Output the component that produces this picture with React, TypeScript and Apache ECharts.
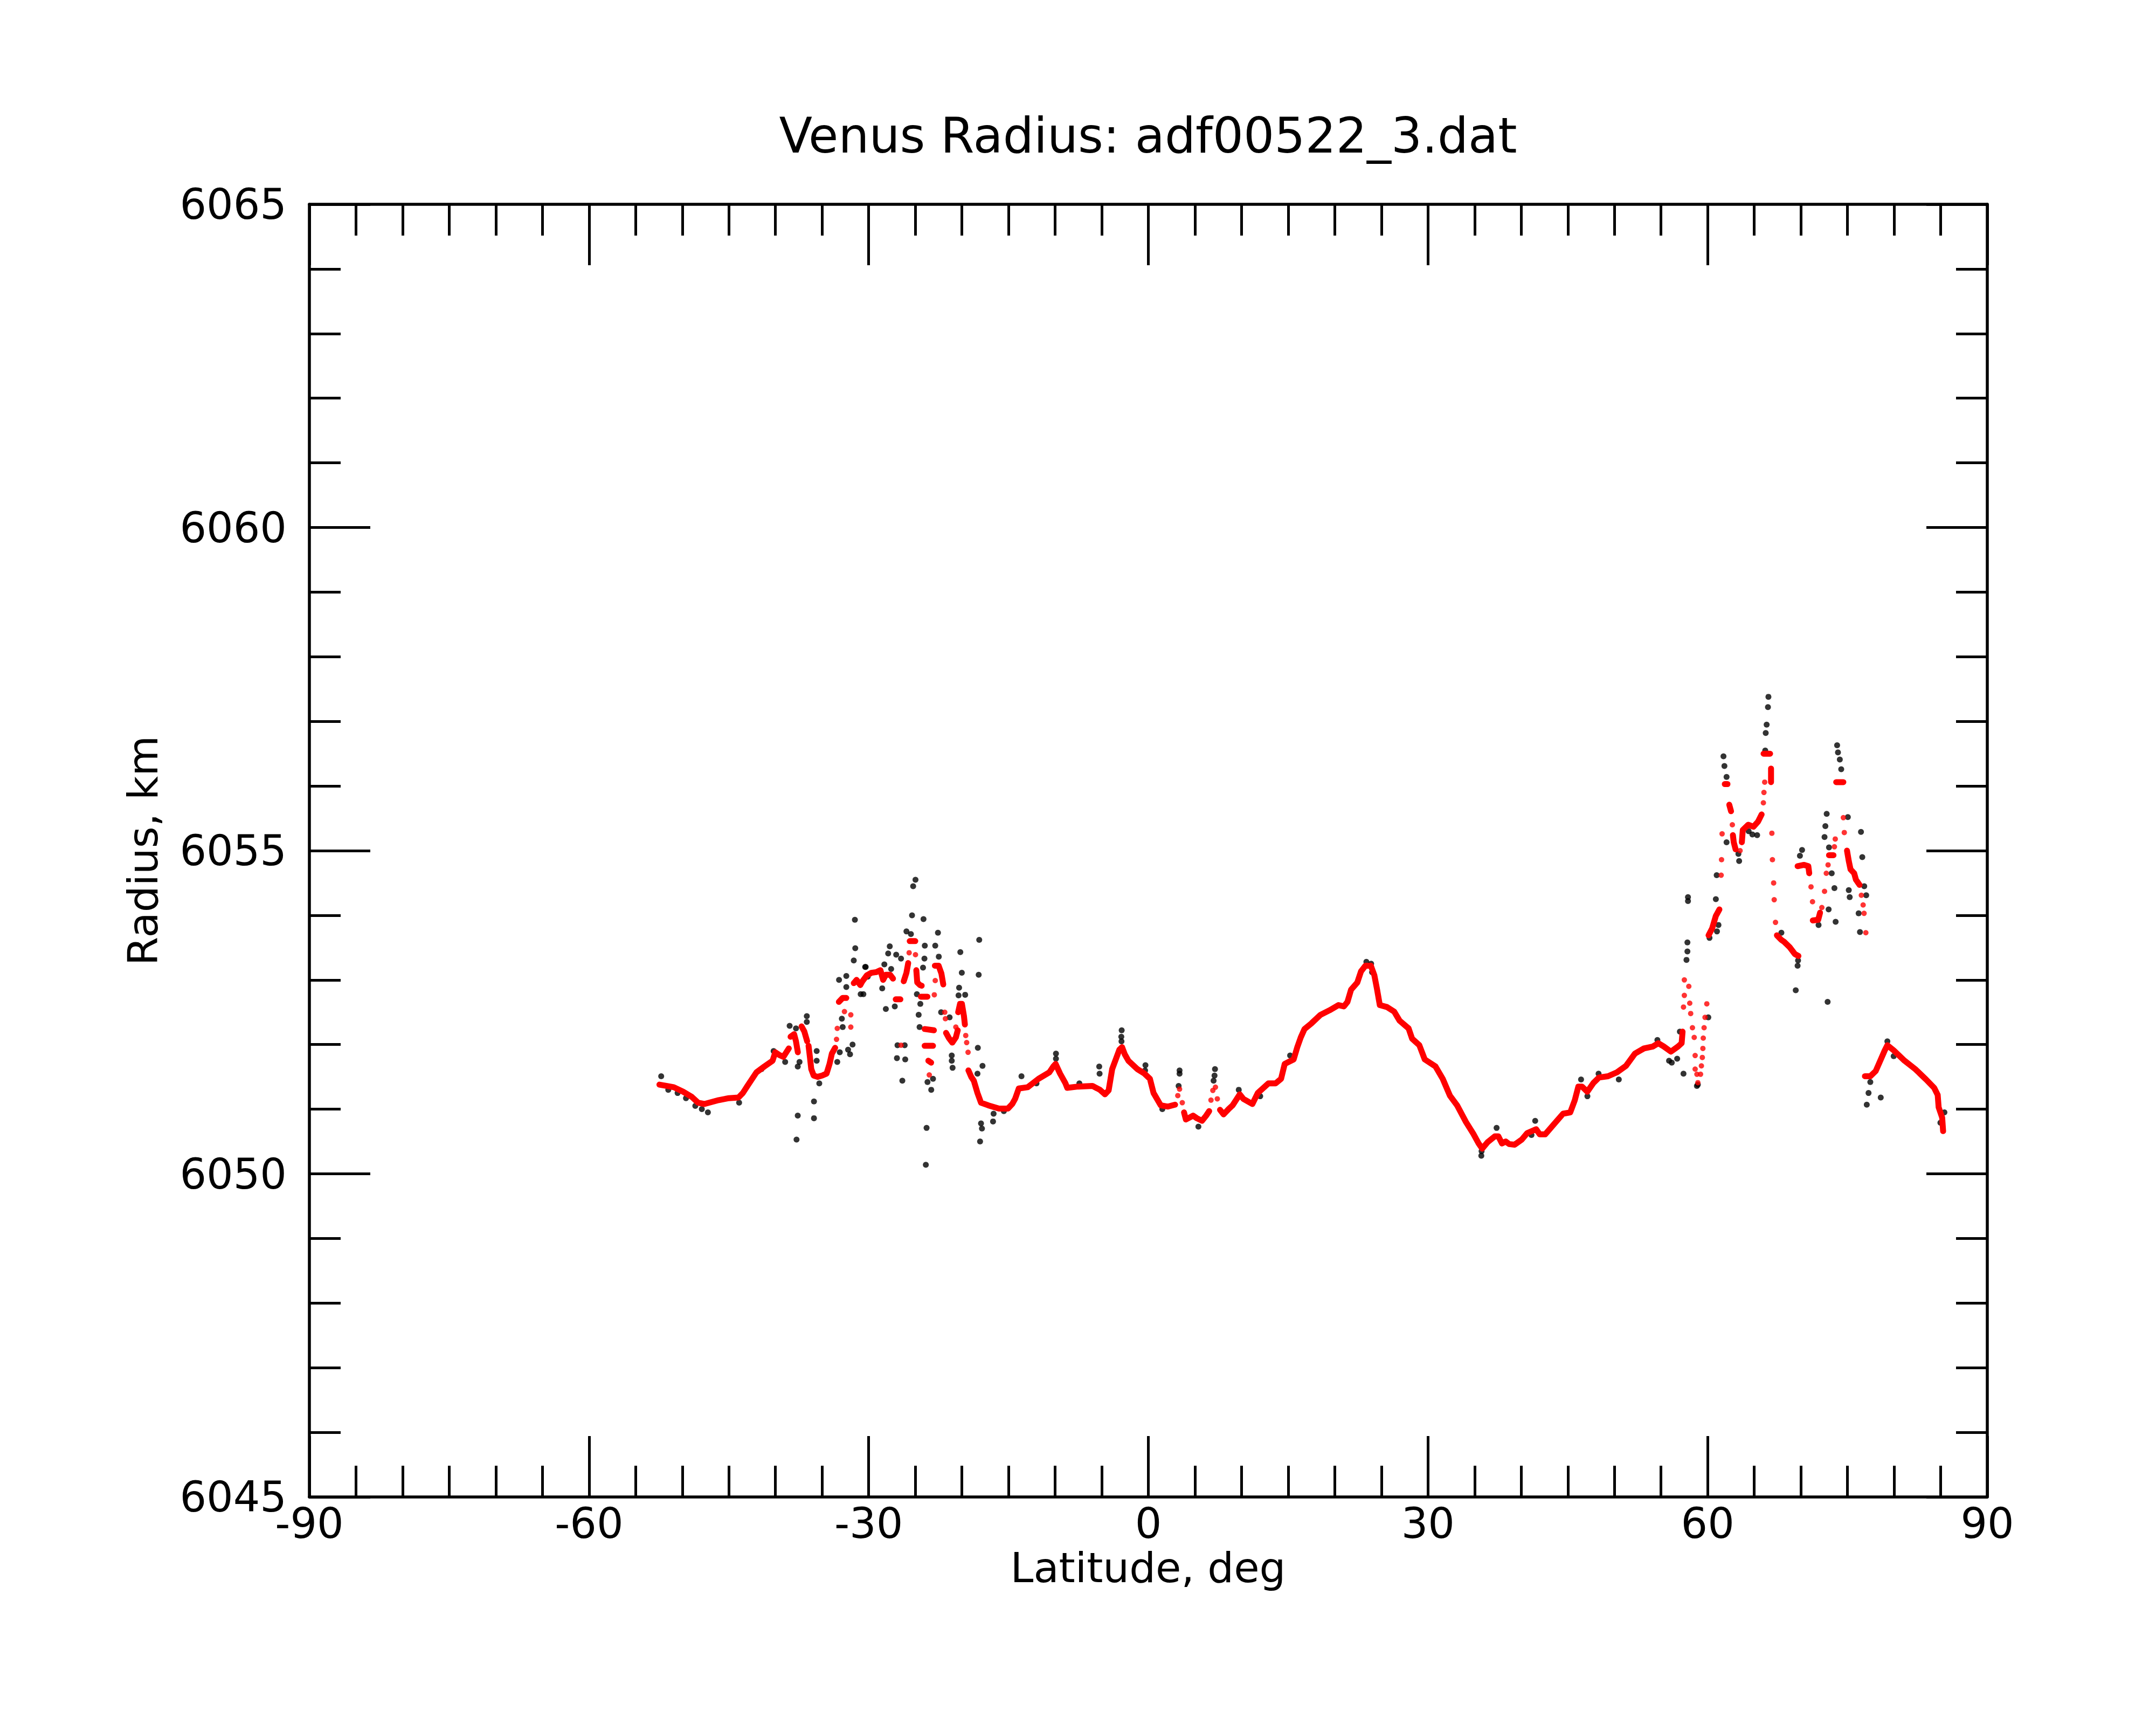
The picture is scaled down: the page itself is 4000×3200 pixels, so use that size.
import React, { useEffect, useRef } from "react";
import * as echarts from "echarts";

const TITLE = "Venus Radius: adf00522_3.dat";
const X_NAME = "Latitude, deg";
const Y_NAME = "Radius, km";
const X_MIN = -90;
const X_MAX = 90;
const X_STEP = 30;
const Y_MIN = 6045;
const Y_MAX = 6065;
const Y_STEP = 5;

// Red (filtered) continuous segments: [latitude, radius]
const redSouthA = [[-52.45,6051.38],[-51.7,6051.36],[-50.91,6051.34],[-49.9,6051.27],[-48.98,6051.19],[-48.3,6051.1],[-47.63,6051.08],[-46.09,6051.14],[-45.0,6051.17],[-43.97,6051.18],[-43.5,6051.25],[-43.01,6051.36],[-42.04,6051.57],[-41.2,6051.66],[-40.31,6051.75],[-40.02,6051.88],[-39.6,6051.84],[-39.15,6051.81],[-38.57,6051.94]];
const redSouthB = [[-38.38,6052.12],[-38.0,6052.16],[-37.8,6052.05],[-37.6,6051.88]];
const redSouthC = [[-37.2,6052.28],[-36.9,6052.2],[-36.6,6052.05]];
const redSouthD = [[-36.45,6051.98],[-36.3,6051.8],[-36.16,6051.62],[-35.9,6051.52],[-35.49,6051.5],[-35.0,6051.52],[-34.52,6051.55],[-34.2,6051.7],[-33.95,6051.86],[-33.6,6051.95]];
const redSouthE = [[-33.2,6052.66],[-32.8,6052.72],[-32.4,6052.72]];
const redSouthF = [[-31.6,6052.95],[-31.3,6053.0],[-30.9,6052.92],[-30.67,6052.98],[-30.2,6053.07],[-29.71,6053.11],[-29.2,6053.12],[-28.74,6053.15],[-28.45,6053.0],[-28.16,6053.08],[-27.7,6053.08],[-27.39,6053.02]];
const redSouthG = [[-27.1,6052.7],[-26.6,6052.7]];
const redSouthH = [[-26.24,6052.98],[-25.95,6053.11],[-25.76,6053.26]];
const redSouthI = [[-25.6,6053.6],[-25.0,6053.6]];
const redSouthJ = [[-24.89,6053.15],[-24.79,6052.96],[-24.5,6052.92],[-24.31,6052.91]];
const redSouthK = [[-24.4,6052.74],[-23.7,6052.74]];
const redSouthL = [[-24.0,6052.24],[-23.0,6052.22]];
const redSouthM = [[-24.0,6051.98],[-23.1,6051.98]];
const redSouthN = [[-23.6,6051.75],[-23.3,6051.72]];
const redSouthO = [[-22.9,6053.22],[-22.5,6053.22],[-22.2,6053.1],[-22.0,6052.93]];
const redSouthP = [[-21.7,6052.18],[-21.4,6052.1],[-21.03,6052.03],[-20.65,6052.11],[-20.45,6052.22]];
const redSouthQ = [[-20.4,6052.5],[-20.2,6052.63],[-20.0,6052.63],[-19.78,6052.44],[-19.68,6052.31]];
const redMiddle = [[-19.3,6051.6],[-19.0,6051.5],[-18.72,6051.44],[-18.33,6051.25],[-17.95,6051.1],[-17.18,6051.06],[-16.02,6051.01],[-15.06,6051.01],[-14.6,6051.08],[-14.29,6051.16],[-13.9,6051.32],[-12.94,6051.34],[-11.78,6051.47],[-10.62,6051.57],[-10.2,6051.66],[-9.95,6051.7],[-9.47,6051.55],[-8.89,6051.4],[-8.7,6051.33],[-7.54,6051.35],[-6.0,6051.36],[-5.2,6051.3],[-4.65,6051.23],[-4.26,6051.29],[-3.88,6051.62],[-3.11,6051.92],[-2.82,6051.96],[-2.53,6051.85],[-2.14,6051.75],[-1.18,6051.62],[-0.41,6051.55],[0.17,6051.47],[0.56,6051.25],[1.33,6051.06],[2.1,6051.04],[2.87,6051.07]];
const redEquatorA = [[3.83,6050.95],[4.03,6050.84],[4.8,6050.9],[5.2,6050.86],[5.76,6050.82],[6.2,6050.9],[6.53,6050.97]];
const redNorth = [[7.69,6050.99],[8.07,6050.92],[8.6,6051.0],[9.04,6051.06],[9.81,6051.23],[10.19,6051.16],[11.16,6051.08],[11.74,6051.25],[12.89,6051.4],[13.66,6051.4],[14.24,6051.47],[14.63,6051.7],[15.59,6051.77],[15.98,6051.96],[16.35,6052.11],[16.75,6052.24],[17.51,6052.33],[18.47,6052.46],[19.44,6052.53],[20.4,6052.61],[20.98,6052.59],[21.36,6052.66],[21.75,6052.85],[22.42,6052.96],[22.81,6053.13],[23.29,6053.22],[23.87,6053.22],[24.25,6053.07],[24.54,6052.85],[24.83,6052.61],[25.6,6052.58],[26.37,6052.51],[26.95,6052.37],[27.92,6052.25],[28.3,6052.09],[29.07,6051.99],[29.65,6051.77],[30.81,6051.66],[31.58,6051.47],[32.35,6051.21],[33.12,6051.06],[34.08,6050.8],[34.86,6050.62],[35.43,6050.47],[35.82,6050.39],[36.4,6050.49],[37.17,6050.58],[37.55,6050.58],[37.94,6050.47],[38.33,6050.5],[38.71,6050.46],[39.29,6050.45],[40.06,6050.53],[40.64,6050.63],[41.6,6050.69],[41.99,6050.61],[42.57,6050.61],[43.53,6050.77],[44.49,6050.93],[45.26,6050.95],[45.75,6051.14],[46.13,6051.35],[46.52,6051.35],[47.09,6051.27],[47.77,6051.41],[48.35,6051.49],[49.31,6051.51],[50.27,6051.57],[51.24,6051.67],[52.2,6051.86],[53.17,6051.94],[54.13,6051.97],[54.71,6052.02],[55.29,6051.97],[56.06,6051.89],[56.83,6051.97],[57.21,6052.02],[57.31,6052.2]];
const redHighA = [[60.1,6053.69],[60.49,6053.8],[60.88,6053.99],[61.26,6054.09]];
const redHighB = [[61.84,6056.03],[62.13,6056.03]];
const redHighC = [[62.32,6055.71],[62.51,6055.61]];
const redHighD = [[62.71,6055.24],[62.8,6055.13],[63.0,6055.02]];
const redHighE = [[63.67,6055.13],[63.77,6055.32],[64.35,6055.4],[64.92,6055.37],[65.41,6055.45],[65.79,6055.56]];
const redHighF = [[66.0,6056.5],[66.7,6056.5]];
const redHighG = [[66.8,6056.27],[66.8,6056.06]];
const redHighH = [[67.43,6053.69],[67.9,6053.62],[68.2,6053.59],[68.78,6053.51],[69.36,6053.4],[69.74,6053.37]];
const redHighI = [[69.65,6054.76],[70.32,6054.78],[70.8,6054.76],[70.9,6054.65]];
const redHighJ = [[71.28,6053.92],[71.86,6053.93],[72.06,6054.04]];
const redHighK = [[73.02,6054.93],[73.5,6054.93]];
const redHighL = [[73.79,6056.06],[74.56,6056.06]];
const redHighM = [[74.95,6055.0],[75.14,6054.84],[75.33,6054.71],[75.72,6054.65],[75.91,6054.55],[76.3,6054.47]];
const redPolar = [[76.87,6051.51],[77.45,6051.51],[78.03,6051.59],[78.61,6051.78],[79.0,6051.91],[79.28,6051.99],[79.96,6051.91],[81.12,6051.75],[82.27,6051.62],[83.43,6051.46],[84.3,6051.33],[84.68,6051.22],[84.78,6051.03],[85.16,6050.87],[85.26,6050.66]];

// Red isolated dots
const redDots = [[-33.45,6052.08],[-33.37,6052.25],[-32.6,6052.51],[-31.92,6052.46],[-31.92,6052.27],[-25.66,6053.42],[-24.98,6053.39],[-26.53,6051.99],[-23.5,6051.53],[-22.96,6052.77],[-22.86,6052.99],[-21.84,6052.5],[-21.77,6052.4],[-20.65,6052.27],[-19.59,6052.14],[-19.49,6052.03],[-19.34,6051.88],[3.16,6051.21],[3.35,6051.31],[3.64,6051.1],[6.72,6051.14],[6.92,6051.29],[7.2,6051.34],[7.4,6051.16],[57.5,6053.0],[57.98,6052.9],[57.5,6052.76],[58.08,6052.64],[57.41,6052.58],[58.18,6052.48],[58.37,6052.26],[58.56,6052.11],[58.66,6051.83],[58.66,6051.62],[58.85,6051.54],[58.95,6051.41],[59.24,6051.54],[59.33,6051.67],[59.43,6051.8],[59.49,6051.94],[59.53,6052.1],[59.62,6052.26],[59.72,6052.42],[59.91,6052.63],[61.45,6054.62],[61.49,6054.86],[61.55,6055.26],[62.65,6055.4],[63.48,6055.0],[65.98,6055.74],[66.04,6055.9],[66.12,6056.06],[66.89,6055.27],[66.95,6054.86],[67.08,6054.5],[67.14,6054.24],[67.28,6053.89],[71.09,6054.44],[71.25,6054.21],[72.25,6054.12],[72.54,6054.37],[72.73,6054.65],[72.92,6054.78],[73.6,6055.06],[73.69,6055.18],[74.56,6055.51],[74.66,6055.28],[76.49,6054.31],[76.68,6054.16],[76.78,6054.03],[76.97,6053.73]];

// Black (raw) points
const blackSouth = [[-52.26,6051.51],[-51.5,6051.3],[-50.5,6051.25],[-49.6,6051.17],[-48.6,6051.05],[-47.25,6050.95],[-47.9,6051.0],[-43.9,6051.1],[-41.5,6051.62],[-40.2,6051.9],[-38.96,6051.73],[-38.48,6052.29],[-37.8,6052.25],[-36.64,6052.44],[-36.64,6052.35],[-35.58,6051.9],[-35.58,6051.75],[-37.42,6051.73],[-37.61,6051.66],[-35.87,6051.12],[-35.87,6050.86],[-37.61,6050.9],[-37.74,6050.53],[-35.3,6051.4],[-32.21,6051.92],[-31.73,6052.0],[-32.0,6051.85],[-33.37,6051.73],[-33.1,6051.88],[-32.79,6052.27],[-32.88,6052.4],[-33.18,6053.0],[-32.4,6053.06],[-32.4,6052.89],[-31.48,6053.93],[-31.44,6053.49],[-31.6,6053.3],[-30.86,6052.78],[-30.38,6053.2],[-30.1,6053.05]];
const blackMid = [[-24.98,6054.55],[-25.23,6054.45],[-25.35,6054.0],[-24.12,6053.94],[-25.95,6053.75],[-25.47,6053.71],[-27.74,6053.52],[-27.91,6053.41],[-27.05,6053.39],[-26.53,6053.33],[-28.32,6053.24],[-30.32,6053.2],[-27.59,6053.17],[-23.98,6053.53],[-24.02,6053.33],[-24.17,6053.19],[-22.86,6053.53],[-22.57,6053.73],[-22.48,6053.36],[-20.17,6053.43],[-20.01,6053.11],[-18.14,6053.62],[-18.2,6053.08],[-20.3,6052.88],[-20.36,6052.76],[-19.65,6052.77],[-24.83,6052.78],[-24.46,6052.63],[-24.64,6052.46],[-24.54,6052.27],[-28.16,6052.55],[-27.2,6052.59],[-28.55,6052.87],[-30.57,6052.78],[-26.91,6051.99],[-26.14,6051.99],[-26.97,6051.79],[-26.08,6051.77],[-26.39,6051.44],[-22.23,6052.5],[-21.32,6052.42],[-21.09,6051.83],[-21.09,6051.75],[-21.0,6051.64],[-23.69,6051.42],[-23.1,6051.47],[-23.29,6051.3],[-23.79,6050.71],[-23.87,6050.14],[-18.29,6051.95],[-17.79,6051.67],[-18.33,6051.55],[-17.95,6050.78],[-17.85,6050.7],[-18.05,6050.5],[-16.6,6050.93],[-16.66,6050.81],[-13.61,6051.51],[-9.91,6051.86],[-9.91,6051.78],[-7.4,6051.4],[-15.5,6050.97],[-12.0,6051.4]];
const blackEquator = [[-5.27,6051.66],[-5.23,6051.55],[-2.86,6052.22],[-2.9,6052.12],[-2.88,6052.05],[-0.31,6051.68],[-0.35,6051.6],[3.35,6051.6],[3.35,6051.55],[3.25,6051.36],[7.15,6051.62],[7.1,6051.52],[7.0,6051.44],[5.37,6050.73],[15.21,6051.83],[1.5,6051.0],[9.7,6051.3],[12.0,6051.2]];
const blackNorth = [[23.39,6053.28],[23.9,6053.25],[24.0,6053.12],[35.72,6050.28],[35.75,6050.35],[37.36,6050.71],[41.5,6050.82],[41.1,6050.6],[46.42,6051.46],[47.1,6051.2],[48.3,6051.55],[50.47,6051.46],[54.61,6052.07],[55.86,6051.75],[56.15,6051.72],[56.73,6051.78],[57.02,6052.2],[57.41,6051.55],[57.89,6054.28],[57.89,6054.22],[57.83,6053.58],[57.83,6053.44],[57.73,6053.31],[58.95,6051.38],[58.85,6051.36],[60.07,6052.42],[60.2,6053.65],[60.97,6054.62],[60.88,6054.25],[61.16,6053.85],[61.0,6053.75]];
const blackHigh = [[61.7,6056.46],[61.8,6056.31],[62.03,6056.14],[62.03,6055.13],[63.38,6054.84],[63.3,6054.95],[65.31,6055.24],[64.8,6055.25],[64.4,6055.3],[66.52,6057.38],[66.47,6057.22],[66.33,6056.95],[66.23,6056.82],[66.18,6056.55],[73.89,6056.63],[73.98,6056.52],[74.18,6056.41],[74.33,6056.26],[75.04,6055.52],[72.77,6055.57],[72.63,6055.38],[72.54,6055.21],[73.02,6055.05],[73.31,6054.65],[73.6,6054.42],[72.98,6054.09],[73.73,6053.9],[72.87,6052.66],[70.13,6055.01],[69.9,6054.92],[75.14,6054.39],[75.24,6054.28],[76.45,6055.29],[76.59,6054.9],[76.2,6054.03],[76.34,6053.74],[77.01,6054.31],[76.8,6054.45],[69.45,6052.84],[69.65,6053.22],[69.7,6053.3],[67.91,6053.73],[71.9,6053.85],[77.07,6051.07],[77.26,6051.25],[77.45,6051.42],[78.57,6051.18],[79.28,6052.05],[79.96,6051.82],[84.97,6050.79],[85.4,6050.95]];

const RED_SEGMENTS = [redSouthA, redSouthB, redSouthC, redSouthD, redSouthE, redSouthF, redSouthG, redSouthH, redSouthI, redSouthJ, redSouthK, redSouthL, redSouthM, redSouthN, redSouthO, redSouthP, redSouthQ, redMiddle, redEquatorA, redNorth, redHighA, redHighB, redHighC, redHighD, redHighE, redHighF, redHighG, redHighH, redHighI, redHighJ, redHighK, redHighL, redHighM, redPolar];
const BLACK_POINTS = [...blackSouth, ...blackMid, ...blackEquator, ...blackNorth, ...blackHigh];

const FONT = "DejaVu Sans";

function axisCommon(position: string, showLabels: boolean, isX: boolean) {
  return {
    type: "value",
    position,
    min: isX ? X_MIN : Y_MIN,
    max: isX ? X_MAX : Y_MAX,
    interval: isX ? X_STEP : Y_STEP,
    axisLine: { show: true, onZero: false, lineStyle: { color: "#000", width: 5.5 } },
    axisTick: { show: true, inside: true, length: 113, lineStyle: { color: "#000", width: 5 } },
    minorTick: { show: true, splitNumber: isX ? 6 : 5, length: 58, lineStyle: { color: "#000", width: 5 } },
    splitLine: { show: false },
    minorSplitLine: { show: false },
    axisLabel: {
      show: showLabels,
      color: "#000",
      fontSize: 78,
      fontFamily: FONT,
      margin: isX ? 10 : 42,
      showMinLabel: true,
      showMaxLabel: true,
      formatter: (v: number) => String(v),
    },
  };
}

export default function App() {
  const ref = useRef<HTMLDivElement>(null);
  useEffect(() => {
    if (!ref.current) return;
    const chart = echarts.init(ref.current, null, { renderer: "svg", width: 4000, height: 3200 });
    const series: any[] = [
      {
        type: "scatter",
        data: BLACK_POINTS,
        symbol: "circle",
        symbolSize: 11,
        itemStyle: { color: "#000" },
        z: 2,
        silent: true,
      },
      ...RED_SEGMENTS.map((seg) => ({
        type: "line",
        data: seg,
        showSymbol: false,
        lineStyle: { color: "#ff0000", width: 11, cap: "round", join: "round" },
        z: 3,
        silent: true,
      })),
      {
        type: "scatter",
        data: redDots,
        symbol: "circle",
        symbolSize: 10,
        itemStyle: { color: "#ff0000" },
        z: 3,
        silent: true,
      },
    ];
    chart.setOption({
      animation: false,
      backgroundColor: "#fff",
      grid: { left: 574, right: 313, top: 379, bottom: 423, containLabel: false },
      xAxis: [axisCommon("bottom", true, true), axisCommon("top", false, true)],
      yAxis: [axisCommon("left", true, false), axisCommon("right", false, false)],
      series,
      graphic: [
        {
          type: "text",
          x: 2130,
          y: 251,
          style: { text: TITLE, fontSize: 90, fontFamily: FONT, fill: "#000", textAlign: "center", textVerticalAlign: "middle" },
        },
        {
          type: "text",
          x: 2130,
          y: 2908,
          style: { text: X_NAME, fontSize: 77, fontFamily: FONT, fill: "#000", textAlign: "center", textVerticalAlign: "middle" },
        },
        {
          type: "text",
          x: 265,
          y: 1578,
          rotation: Math.PI / 2,
          style: { text: Y_NAME, fontSize: 77, fontFamily: FONT, fill: "#000", textAlign: "center", textVerticalAlign: "middle" },
        },
      ],
    });
    return () => chart.dispose();
  }, []);
  return (
    <div
      ref={ref}
      style={{ position: "absolute", left: 0, top: 0, width: 4000, height: 3200, background: "#fff" }}
    />
  );
}
